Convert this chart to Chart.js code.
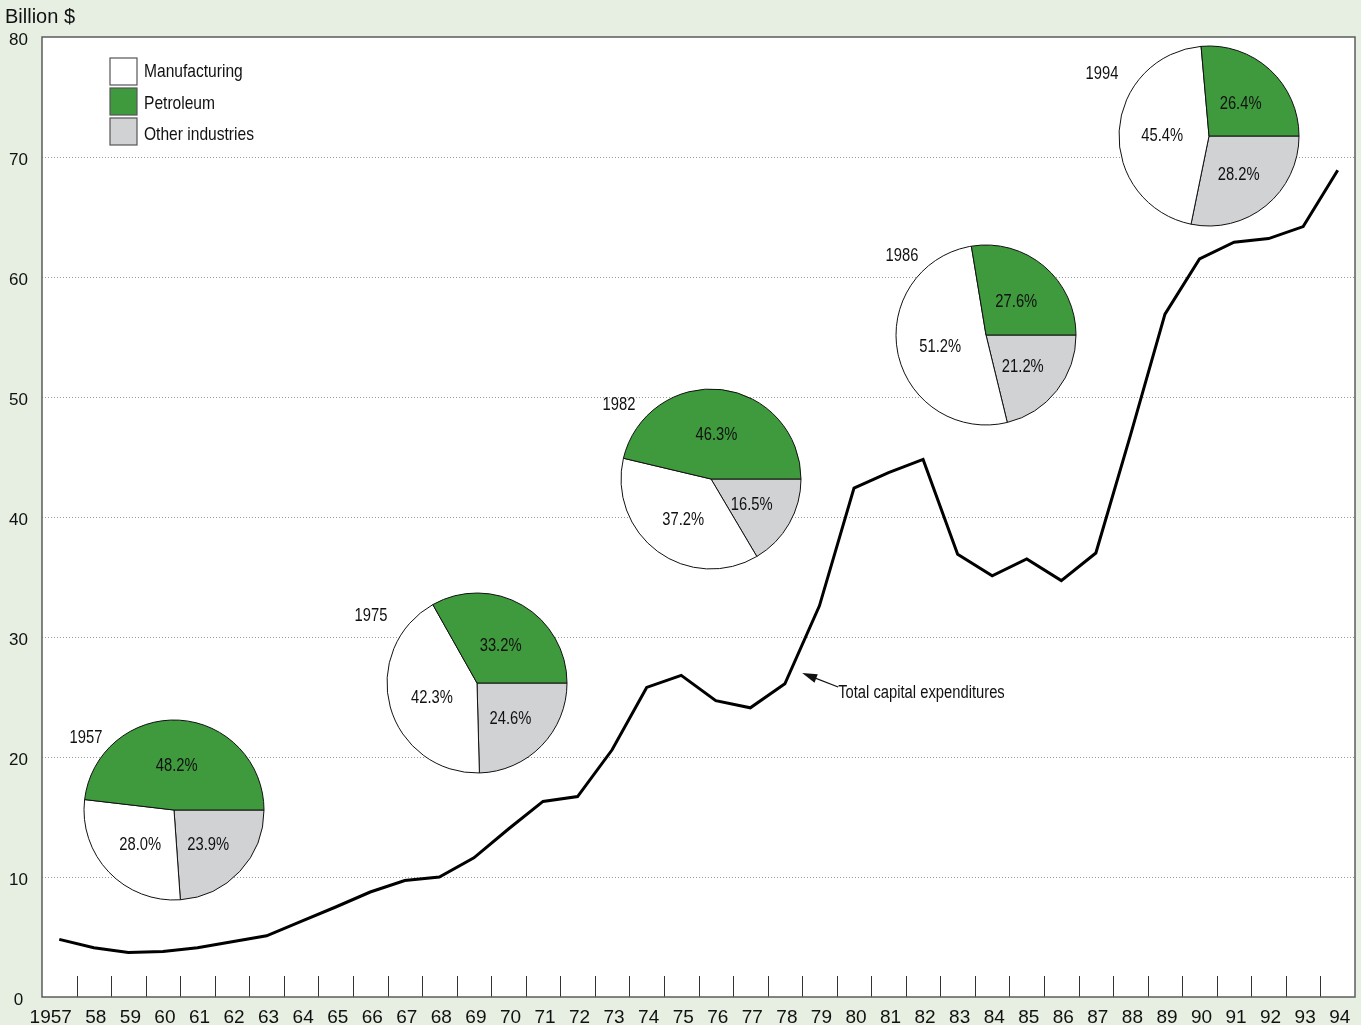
<!DOCTYPE html>
<html>
<head>
<meta charset="utf-8">
<script src="https://cdn.jsdelivr.net/npm/chart.js@4.4.1/dist/chart.umd.min.js"></script>
<style>
    html, body { margin: 0; padding: 0; background: #e6efe2; }
    #wrap { position: relative; width: 1361px; height: 1025px; overflow: hidden; }
    #main { position: absolute; left: 0; top: 0; }
    .pie { position: absolute; }
    .yr {
        position: absolute;
        font: 18px "Liberation Sans", Arial, sans-serif;
        color: #111;
        transform: translate(-50%, -50%) scaleX(0.82);
        white-space: nowrap;
    }
</style>
</head>
<body>
<div id="wrap">
    <canvas id="main" width="1361" height="1025"></canvas>
</div>
<script>
const years = [1957, 1958, 1959, 1960, 1961, 1962, 1963, 1964, 1965, 1966, 1967, 1968, 1969,
    1970, 1971, 1972, 1973, 1974, 1975, 1976, 1977, 1978, 1979, 1980, 1981, 1982,
    1983, 1984, 1985, 1986, 1987, 1988, 1989, 1990, 1991, 1992, 1993, 1994];
const yearLabels = ['1957    ', '58', '59', '60', '61', '62', '63', '64', '65', '66', '67', '68', '69',
    '70', '71', '72', '73', '74', '75', '76', '77', '78', '79', '80', '81', '82',
    '83', '84', '85', '86', '87', '88', '89', '90', '91', '92', '93', '94'];
// total capital expenditures, billion $
const totalCapex = [4.8, 4.1, 3.7, 3.8, 4.1, 4.6, 5.1, 6.3, 7.5, 8.75, 9.7, 10.0, 11.6,
    14.0, 16.3, 16.7, 20.6, 25.8, 26.8, 24.7, 24.1, 26.1, 32.6, 42.4, 43.7, 44.8,
    36.9, 35.1, 36.5, 34.7, 37.0, 46.8, 56.9, 61.5, 62.9, 63.2, 64.2, 68.9];
const yTicks = [0, 10, 20, 30, 40, 50, 60, 70, 80];

// shares by industry (%), one entry per pie
const pieYears = ['1957', '1975', '1982', '1986', '1994'];
const sectors = ['Manufacturing', 'Petroleum', 'Other industries'];
const manufacturingShare = [28.0, 42.3, 37.2, 51.2, 45.4];
const petroleumShare = [48.2, 33.2, 46.3, 27.6, 26.4];
const otherShare = [23.9, 24.6, 16.5, 21.2, 28.2];

const sectorColors = ['#ffffff', '#3e9a3c', '#d1d2d4'];
const regular = '"Liberation Sans", Arial, sans-serif';
const NARROW = 0.82; // no narrow face installed, so squeeze the regular one

// where each pie sits on the page and where its year label goes
const pieLayout = [
    { cx: 174, cy: 810, lx: -88, ly: -73 },
    { cx: 477, cy: 683, lx: -106, ly: -68 },
    { cx: 711, cy: 479, lx: -92, ly: -75 },
    { cx: 986, cy: 335, lx: -84, ly: -80 },
    { cx: 1209, cy: 136, lx: -107, ly: -63 }
];

function narrowText(ctx, text, x, y) {
    ctx.save();
    ctx.translate(x, y);
    ctx.scale(NARROW, 1);
    ctx.fillText(text, 0, 0);
    ctx.restore();
}

const framePlugin = {
    id: 'frame',
    beforeDraw(chart) {
        const { ctx, chartArea: a } = chart;
        ctx.save();
        ctx.fillStyle = '#ffffff';
        ctx.fillRect(a.left, a.top, a.right - a.left, a.bottom - a.top);
        ctx.restore();
    },
    afterDraw(chart) {
        const { ctx, chartArea: a } = chart;
        const xs = chart.scales.x, ys = chart.scales.y;
        ctx.save();

        // small ticks pointing up from the axis, between the years
        ctx.strokeStyle = '#333';
        ctx.lineWidth = 1;
        for (let i = 1; i < years.length; i++) {
            const x = Math.round((xs.getPixelForTick(i - 1) + xs.getPixelForTick(i)) / 2) + 0.5;
            ctx.beginPath();
            ctx.moveTo(x, a.bottom);
            ctx.lineTo(x, a.bottom - 21);
            ctx.stroke();
        }

        // plot frame
        ctx.strokeStyle = '#5c5c5c';
        ctx.lineWidth = 1.5;
        ctx.strokeRect(a.left, a.top, a.right - a.left, a.bottom - a.top);

        // legend
        ctx.font = '19px ' + regular;
        ctx.textBaseline = 'middle';
        ctx.textAlign = 'left';
        sectors.forEach((name, i) => {
            const bx = a.left + 68, by = a.top + 21 + i * 30;
            ctx.fillStyle = sectorColors[i];
            ctx.fillRect(bx, by, 27, 27);
            ctx.strokeStyle = '#555';
            ctx.lineWidth = 1.2;
            ctx.strokeRect(bx, by, 27, 27);
            ctx.fillStyle = '#111';
            narrowText(ctx, name, bx + 34, by + 14 + i * 1.5);
        });

        // unit label
        ctx.font = '20px ' + regular;
        ctx.fillStyle = '#111';
        ctx.fillText('Billion $', 5, 17);

        // annotation arrow for the line
        const tipX = xs.getPixelForValue(21.5), tipY = ys.getPixelForValue(27.0);
        const tailX = tipX + 36, tailY = tipY + 14;
        const ang = Math.atan2(tipY - tailY, tipX - tailX);
        ctx.strokeStyle = '#111';
        ctx.lineWidth = 1.2;
        ctx.beginPath();
        ctx.moveTo(tailX, tailY);
        ctx.lineTo(tipX - Math.cos(ang) * 10, tipY - Math.sin(ang) * 10);
        ctx.stroke();
        ctx.fillStyle = '#111';
        ctx.beginPath();
        ctx.moveTo(tipX, tipY);
        ctx.lineTo(tipX - Math.cos(ang) * 15 + Math.sin(ang) * 4.5, tipY - Math.sin(ang) * 15 - Math.cos(ang) * 4.5);
        ctx.lineTo(tipX - Math.cos(ang) * 15 - Math.sin(ang) * 4.5, tipY - Math.sin(ang) * 15 + Math.cos(ang) * 4.5);
        ctx.closePath();
        ctx.fill();
        ctx.font = '18px ' + regular;
        ctx.textAlign = 'left';
        narrowText(ctx, 'Total capital expenditures', tailX, tailY + 6);

        ctx.restore();
    }
};

const mainChart = new Chart(document.getElementById('main').getContext('2d'), {
    type: 'line',
    data: {
        labels: years,
        datasets: [{
            label: 'Total capital expenditures',
            data: totalCapex,
            borderColor: '#000000',
            borderWidth: 3,
            pointRadius: 0,
            tension: 0,
            fill: false
        }]
    },
    options: {
        responsive: false,
        animation: false,
        layout: { padding: { top: 37, right: 6, left: 0, bottom: 0 } },
        plugins: {
            legend: { display: false },
            tooltip: { enabled: false }
        },
        scales: {
            x: {
                type: 'category',
                offset: true,
                grid: { display: false, drawTicks: false },
                border: { display: false },
                ticks: {
                    autoSkip: false,
                    maxRotation: 0,
                    padding: 9,
                    labelOffset: 2,
                    color: '#111',
                    font: { family: regular, size: 19 },
                    callback: (v, i) => yearLabels[i]
                },
                afterFit: (scale) => { scale.height = 28; }
            },
            y: {
                min: 0,
                max: 80,
                afterBuildTicks: (scale) => { scale.ticks = yTicks.map(v => ({ value: v })); },
                grid: {
                    drawTicks: false,
                    lineWidth: 1,
                    color: (c) => (c.tick && (c.tick.value === 0 || c.tick.value === 80)) ? 'rgba(0,0,0,0)' : '#9a9a9a'
                },
                border: { display: false, dash: [1, 2] },
                ticks: {
                    padding: 14,
                    crossAlign: 'center',
                    labelOffset: 3,
                    color: '#111',
                    font: { family: regular, size: 17 }
                },
                afterFit: (scale) => { scale.width = 42; }
            }
        }
    },
    plugins: [framePlugin]
});

const pieLabels = {
    id: 'pieLabels',
    afterDatasetsDraw(chart) {
        const { ctx } = chart;
        const meta = chart.getDatasetMeta(0);
        const vals = chart.data.datasets[0].data;
        ctx.save();
        ctx.font = '18px ' + regular;
        ctx.fillStyle = '#111';
        ctx.textAlign = 'center';
        ctx.textBaseline = 'middle';
        meta.data.forEach((arc, j) => {
            const p = arc.getProps(['x', 'y', 'startAngle', 'endAngle', 'outerRadius'], true);
            const m = (p.startAngle + p.endAngle) / 2;
            const r = p.outerRadius * 0.52;
            narrowText(ctx, vals[j].toFixed(1) + '%', p.x + Math.cos(m) * r, p.y + Math.sin(m) * r + 3);
        });
        ctx.restore();
    }
};

const wrap = document.getElementById('wrap');
pieYears.forEach((yr, i) => {
    const L = pieLayout[i];
    const cv = document.createElement('canvas');
    cv.className = 'pie';
    cv.width = 186;
    cv.height = 186;
    cv.style.left = (L.cx - 93) + 'px';
    cv.style.top = (L.cy - 93) + 'px';
    wrap.appendChild(cv);

    // drawn clockwise from 3 o'clock: other, manufacturing, petroleum
    new Chart(cv.getContext('2d'), {
        type: 'pie',
        data: {
            labels: [sectors[2], sectors[0], sectors[1]],
            datasets: [{
                data: [otherShare[i], manufacturingShare[i], petroleumShare[i]],
                backgroundColor: [sectorColors[2], sectorColors[0], sectorColors[1]],
                borderColor: '#111111',
                borderWidth: 1
            }]
        },
        options: {
            responsive: false,
            animation: false,
            rotation: 90,
            radius: 90,
            plugins: { legend: { display: false }, tooltip: { enabled: false } }
        },
        plugins: [pieLabels]
    });

    const lab = document.createElement('div');
    lab.className = 'yr';
    lab.textContent = yr;
    lab.style.left = (L.cx + L.lx) + 'px';
    lab.style.top = (L.cy + L.ly) + 'px';
    wrap.appendChild(lab);
});
</script>
</body>
</html>
